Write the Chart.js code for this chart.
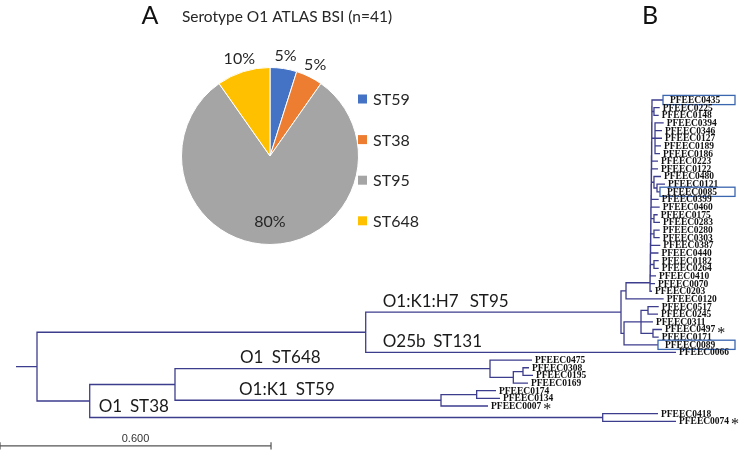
<!DOCTYPE html>
<html><head><meta charset="utf-8">
<script src="https://cdn.jsdelivr.net/npm/chart.js@4.4.1/dist/chart.umd.min.js"></script>
<style>
html,body{margin:0;padding:0;background:#fff;}
#wrap{position:relative;width:742px;height:450px;overflow:hidden;background:#fff;}
canvas{position:absolute;left:0;top:0;}
</style></head><body>
<div id="wrap"><canvas id="tree" width="742" height="450"></canvas><canvas id="pie" width="742" height="450"></canvas></div>
<script>
// ================= Panel A : pie data =================
const panelLetters = ['A', 'B'];
const pieTitle = 'Serotype O1 ATLAS BSI (n=41)';
const pieCategories = ['ST59', 'ST38', 'ST95', 'ST648'];
const pieCounts = [2, 2, 33, 4];
const pieColors = ['#4472C4', '#ED7D31', '#A5A5A5', '#FFC000'];

// ================= Panel B : tree data =================
const tipNames = ['PFEEC0435','PFEEC0225','PFEEC0148','PFEEC0394','PFEEC0346','PFEEC0127','PFEEC0189','PFEEC0186',
  'PFEEC0223','PFEEC0122','PFEEC0480','PFEEC0121','PFEEC0085','PFEEC0399','PFEEC0460','PFEEC0175','PFEEC0283',
  'PFEEC0280','PFEEC0303','PFEEC0387','PFEEC0440','PFEEC0182','PFEEC0264','PFEEC0410','PFEEC0070','PFEEC0203',
  'PFEEC0120','PFEEC0517','PFEEC0245','PFEEC0311','PFEEC0497','PFEEC0171','PFEEC0089','PFEEC0066',
  'PFEEC0475','PFEEC0308','PFEEC0195','PFEEC0169','PFEEC0174','PFEEC0134','PFEEC0007','PFEEC0418','PFEEC0074'];
const tipParent = ['L0','P1','P1','Q','Q','Q','Q','Q',
  'L2','L3','R4','R4b','R4b','L5','L6','P7','P7',
  'P8','P8','L9','L10','P11','P11','L12','L13','L14',
  'B','C1','C1','C','C2','C2','Cp','U',
  'G','I','I','H','K','K','J','F','F'];
const tipDepth = [1.3859,1.3786,1.3764,1.3874,1.3837,1.3837,1.3814,1.3792,
  1.3748,1.3748,1.3814,1.3903,1.3792,1.3764,1.3786,1.3741,1.3792,
  1.3786,1.3786,1.3799,1.3759,1.3764,1.3764,1.3704,1.3682,1.3615,
  1.3874,1.3764,1.3748,1.3637,1.3837,1.3764,1.3748,1.4146,
  1.0959,1.0892,1.0981,1.0870,1.0162,1.0250,0.9985,1.3748,1.4146];
const boxedTips = ['PFEEC0435','PFEEC0085','PFEEC0089'];
const starredTips = ['PFEEC0497','PFEEC0007','PFEEC0074'];

const nodeNames  = ['root','U','A','B','L14','L13','L12','L11','L10','L9','L8','L7','L6','L5','L4','L3','L2','L1','L0',
  'P1','Q','R4','R4b','P7','P8','P11','Cp','C','C1','C2','D','E','G','H','I','J','K','F'];
const nodeParent = [null,'root','U','A','B','L14','L13','L12','L11','L10','L9','L8','L7','L6','L5','L4','L3','L2','L1',
  'L0','L1','L4','R4','L7','L8','L11','A','Cp','C','C','root','D','E','G','H','E','J','D'];
const nodeDepth  = [0,0.7277,1.2929,1.3040,1.3571,1.3574,1.3577,1.3580,1.3584,1.3587,1.3590,1.3593,1.3596,1.3599,1.3602,1.3606,1.3609,1.3612,1.3615,
  1.3659,1.3682,1.3659,1.3726,1.3659,1.3659,1.3659,1.2996,1.3372,1.3527,1.3637,0.1167,0.3055,1.0029,1.0545,1.0759,0.8944,0.9734,1.2524];
const rootStubDepth = -0.0465;

const cladeSerotype = ['O1:K1:H7', 'O25b', 'O1', 'O1:K1', 'O1'];
const cladeST = ['ST95', 'ST131', 'ST648', 'ST59', 'ST38'];
const cladeLabelNode = ['A', 'PFEEC0066', 'G', 'J', 'F'];

const scaleBarStart = -0.0819;
const scaleBarLength = 0.6;
const scaleBarLabel = '0.600';

// ================= layout / style =================
const TREE_COLOR = '#3d3d8e';
const BOX_COLOR = '#3b66b0';
const rowPitch = 7.65, firstRowPx = 100;
const unitPx = 451.7, rootPx = 37;
const cladeLabelDx = [17, 17, 65, 64, 9];
const cladeLabelGap = [11, 7.6, 8.4, 8, 7.7];
const boxRightPx = 735;

// ---------- build the tree geometry ----------
const nodes = {};
nodeNames.forEach((n, i) => nodes[n] = {name: n, parent: nodeParent[i], depth: nodeDepth[i], children: [], tip: false});
tipNames.forEach((n, i) => nodes[n] = {name: n, parent: tipParent[i], depth: tipDepth[i], children: [], tip: true, y: i});
Object.values(nodes).forEach(n => { if (n.parent) nodes[n.parent].children.push(n); });
function setY(n) {
  if (n.tip) return n.y;
  const ys = n.children.map(setY);
  n.y = (Math.min(...ys) + Math.max(...ys)) / 2;
  return n.y;
}
setY(nodes.root);

const branchPts = [];
const gap = () => branchPts.push({x: NaN, y: NaN});
branchPts.push({x: rootStubDepth, y: nodes.root.y}, {x: nodes.root.depth, y: nodes.root.y}); gap();
Object.values(nodes).forEach(n => {
  if (n.tip) return;
  const ch = n.children.slice().sort((a, b) => a.y - b.y);
  const f = ch[0], l = ch[ch.length - 1];
  branchPts.push({x: f.depth, y: f.y}, {x: n.depth, y: f.y}, {x: n.depth, y: l.y}, {x: l.depth, y: l.y}); gap();
  ch.slice(1, -1).forEach(c => { branchPts.push({x: n.depth, y: c.y}, {x: c.depth, y: c.y}); gap(); });
});

const barRow = tipNames.length - 1 + 3.2;
const tickH = 0.47;
const scalePts = [
  {x: scaleBarStart, y: barRow - tickH}, {x: scaleBarStart, y: barRow + tickH}, {x: NaN, y: NaN},
  {x: scaleBarStart, y: barRow}, {x: scaleBarStart + scaleBarLength, y: barRow}, {x: NaN, y: NaN},
  {x: scaleBarStart + scaleBarLength, y: barRow - tickH}, {x: scaleBarStart + scaleBarLength, y: barRow + tickH}
];

const treeText = {
  id: 'treeText',
  afterDatasetsDraw(chart) {
    const ctx = chart.ctx, xs = chart.scales.x, ys = chart.scales.y;
    ctx.save();
    ctx.textBaseline = 'middle';
    tipNames.forEach((name, i) => {
      const px = xs.getPixelForValue(tipDepth[i]), py = ys.getPixelForValue(i);
      let tx = px + 3;
      if (boxedTips.includes(name)) {
        ctx.strokeStyle = BOX_COLOR; ctx.lineWidth = 1.3;
        ctx.strokeRect(px, py - 4.6, boxRightPx - px, 9.2);
        tx = px + 7;
      }
      ctx.fillStyle = '#111';
      ctx.font = 'bold 9.5px "Liberation Serif"';
      ctx.textAlign = 'left';
      ctx.fillText(name, tx, py + 0.5);
      if (starredTips.includes(name)) {
        const w = ctx.measureText(name).width;
        ctx.font = '16px "Liberation Serif"';
        ctx.textBaseline = 'alphabetic';
        ctx.fillText('*', tx + w + 2, py + 8);
        ctx.textBaseline = 'middle';
      }
    });
    ctx.font = '17px Lato';
    ctx.fillStyle = '#1a1a1a';
    ctx.textAlign = 'left';
    cladeSerotype.forEach((t, i) => {
      const n = nodes[cladeLabelNode[i]], p = nodes[n.parent];
      const x0 = xs.getPixelForValue(p.depth) + cladeLabelDx[i], y0 = ys.getPixelForValue(n.y) - 11;
      ctx.fillText(t, x0, y0);
      ctx.fillText(cladeST[i], x0 + ctx.measureText(t).width + cladeLabelGap[i], y0);
    });
    ctx.font = '11px "Liberation Sans"';
    ctx.fillStyle = '#333';
    ctx.textAlign = 'center';
    ctx.fillText(scaleBarLabel, (xs.getPixelForValue(scaleBarStart) + xs.getPixelForValue(scaleBarStart + scaleBarLength)) / 2,
      ys.getPixelForValue(barRow) - 7);
    ctx.restore();
  }
};

new Chart(document.getElementById('tree'), {
  type: 'line',
  data: {datasets: [
    {data: branchPts, borderColor: TREE_COLOR, borderWidth: 1.3, pointRadius: 0, spanGaps: false, tension: 0, fill: false, clip: false, borderJoinStyle: 'miter'},
    {data: scalePts, borderColor: '#555', borderWidth: 1.2, pointRadius: 0, spanGaps: false, tension: 0, fill: false, clip: false}
  ]},
  options: {
    responsive: false, animation: false, events: [],
    layout: {padding: 0},
    scales: {
      x: {type: 'linear', display: false, min: -rootPx / unitPx, max: (742 - rootPx) / unitPx},
      y: {type: 'linear', display: false, reverse: true, min: -firstRowPx / rowPitch, max: (450 - firstRowPx) / rowPitch}
    },
    plugins: {legend: {display: false}, tooltip: {enabled: false}, title: {display: false}}
  },
  plugins: [treeText]
});

// ---------- Panel A ----------
const pieDecor = {
  id: 'pieDecor',
  afterDatasetsDraw(chart) {
    const ctx = chart.ctx;
    ctx.save();
    ctx.textBaseline = 'middle';
    ctx.textAlign = 'center';
    ctx.fillStyle = '#111';
    ctx.font = '25px Lato';
    ctx.fillText(panelLetters[0], 150, 16);
    ctx.fillText(panelLetters[1], 650, 16);
    ctx.font = '15.5px Lato';
    ctx.fillStyle = '#262626';
    ctx.fillText(pieTitle, 287, 17);
    const total = pieCounts.reduce((a, b) => a + b, 0);
    const meta = chart.getDatasetMeta(0);
    ctx.font = '16px Lato';
    ctx.fillStyle = '#262626';
    meta.data.forEach((arc, i) => {
      const share = pieCounts[i] / total;
      const mid = (arc.startAngle + arc.endAngle) / 2;
      const r = share > 0.3 ? arc.outerRadius * 0.74 : arc.outerRadius * 1.15;
      ctx.fillText(Math.round(share * 100) + '%', arc.x + r * Math.cos(mid), arc.y + r * Math.sin(mid));
    });
    ctx.textAlign = 'left';
    pieCategories.forEach((c, i) => {
      const y = 99 + i * 40.6;
      ctx.fillStyle = pieColors[i];
      ctx.fillRect(358, y - 4.5, 9, 9);
      ctx.fillStyle = '#262626';
      ctx.fillText(c, 373, y + 1);
    });
    ctx.restore();
  }
};

new Chart(document.getElementById('pie'), {
  type: 'pie',
  data: {labels: pieCategories, datasets: [{data: pieCounts, backgroundColor: pieColors, borderColor: '#fff', borderWidth: 1, hoverOffset: 0}]},
  options: {
    responsive: false, animation: false, events: [],
    layout: {padding: {left: 181, top: 67, right: 383, bottom: 205}},
    plugins: {legend: {display: false}, tooltip: {enabled: false}, title: {display: false}}
  },
  plugins: [pieDecor]
});
</script>
</body></html>
